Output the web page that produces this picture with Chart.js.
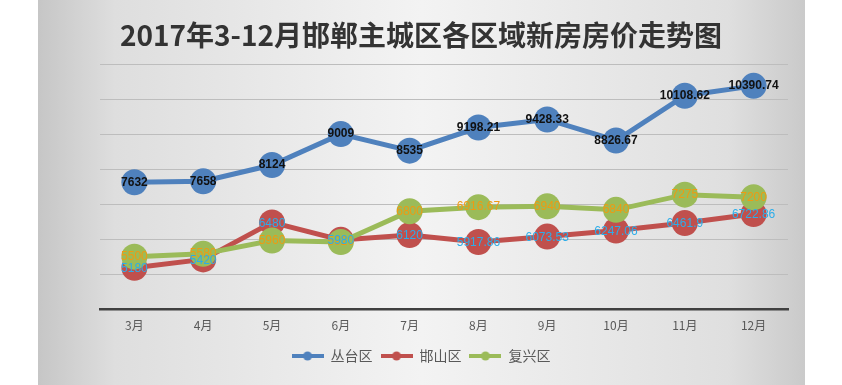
<!DOCTYPE html>
<html>
<head>
<meta charset="utf-8">
<script src="https://cdn.jsdelivr.net/npm/chart.js@4"></script>
<style>
  html, body { margin: 0; padding: 0; background: #fff; }
  #wrap { width: 842px; height: 385px; }
</style>
</head>
<body>
<div id="wrap"><canvas id="priceChart" width="842" height="385"></canvas></div>
<script>
const months = ["3月", "4月", "5月", "6月", "7月", "8月", "9月", "10月", "11月", "12月"];
const congtai = [7632, 7658, 8124, 9009, 8535, 9198.21, 9428.33, 8826.67, 10108.62, 10390.74];
const hanshan = [5180, 5420, 6480, 5980, 6120, 5917.86, 6073.53, 6247.06, 6461.9, 6722.86];
const fuxing = [5500, 5580, 5960, 5920, 6800, 6916.67, 6940, 6840, 7275, 7200];
const yTicks = [4000, 5000, 6000, 7000, 8000, 9000, 10000, 11000];

const blue = "#4f81bd";
const red = "#c0504d";
const green = "#9bbb59";

// little line-with-dot image for the legend
function legendMark(color) {
  const c = document.createElement("canvas");
  c.width = 32;
  c.height = 10;
  const g = c.getContext("2d");
  g.strokeStyle = color;
  g.lineWidth = 4;
  g.beginPath();
  g.moveTo(0, 5);
  g.lineTo(32, 5);
  g.stroke();
  g.fillStyle = color;
  g.beginPath();
  g.arc(16, 5, 4.5, 0, Math.PI * 2);
  g.fill();
  return c;
}

const bgPlugin = {
  id: "bg",
  beforeDraw(chart) {
    const ctx = chart.ctx;
    const grad = ctx.createLinearGradient(38, 0, 805, 0);
    grad.addColorStop(0, "#c6c6c6");
    grad.addColorStop(0.1, "#dedede");
    grad.addColorStop(0.5, "#f3f3f3");
    grad.addColorStop(0.9, "#dfdfdf");
    grad.addColorStop(1, "#cacaca");
    ctx.save();
    ctx.fillStyle = grad;
    ctx.fillRect(38, 0, 767, 385);
    ctx.restore();
  },
};

const labelStyles = [
  { color: "#111111", font: "bold 12px 'Liberation Sans'", dy: 0 },
  { color: "#2badea", font: "12px 'Liberation Sans'", dy: 1 },
  { color: "#ef9a12", font: "12px 'Liberation Sans'", dy: 0 },
];

const valueLabels = {
  id: "valueLabels",
  afterDatasetsDraw(chart) {
    const ctx = chart.ctx;
    ctx.save();
    ctx.textAlign = "center";
    ctx.textBaseline = "middle";
    [0, 2, 1].forEach((i) => {
      const meta = chart.getDatasetMeta(i);
      const st = labelStyles[i];
      ctx.fillStyle = st.color;
      ctx.font = st.font;
      meta.data.forEach((pt, j) => {
        ctx.fillText(String(chart.data.datasets[i].data[j]), pt.x, pt.y + st.dy);
      });
    });
    ctx.restore();
  },
};

new Chart(document.getElementById("priceChart"), {
  type: "line",
  data: {
    labels: months,
    datasets: [
      {
        label: "丛台区",
        data: congtai,
        borderColor: blue,
        backgroundColor: blue,
        borderWidth: 5,
        pointRadius: 13,
        pointBackgroundColor: blue,
        pointBorderWidth: 0,
        order: 3,
      },
      {
        label: "邯山区",
        data: hanshan,
        borderColor: red,
        backgroundColor: red,
        borderWidth: 5,
        pointRadius: 13,
        pointBackgroundColor: red,
        pointBorderWidth: 0,
        order: 2,
      },
      {
        label: "复兴区",
        data: fuxing,
        borderColor: green,
        backgroundColor: green,
        borderWidth: 5,
        pointRadius: 13,
        pointBackgroundColor: green,
        pointBorderWidth: 0,
        order: 1,
      },
    ],
  },
  options: {
    responsive: false,
    animation: false,
    devicePixelRatio: 1,
    layout: { padding: { left: 54, right: 54, top: 0, bottom: 12 } },
    plugins: {
      tooltip: { enabled: false },
      title: {
        display: true,
        text: "2017年3-12月邯郸主城区各区域新房房价走势图",
        color: "#333333",
        font: { family: "'Noto Sans CJK SC'", size: 28, weight: "bold" },
        padding: { top: 19, bottom: 12 },
      },
      legend: {
        position: "bottom",
        labels: {
          usePointStyle: true,
          pointStyleWidth: 32,
          padding: 8,
          color: "#595959",
          font: { family: "'Noto Sans CJK SC'", size: 14 },
          sort: (a, b) => a.datasetIndex - b.datasetIndex,
          generateLabels(chart) {
            return chart.data.datasets.map((ds, i) => ({
              text: ds.label,
              fillStyle: ds.borderColor,
              strokeStyle: ds.borderColor,
              fontColor: "#595959",
              lineWidth: 0,
              pointStyle: legendMark(ds.borderColor),
              hidden: false,
              datasetIndex: i,
            }));
          },
        },
      },
    },
    scales: {
      x: {
        offset: true,
        grid: { display: false, drawTicks: false, offset: true },
        border: { display: true, color: "#404040", width: 2.5 },
        ticks: {
          color: "#595959",
          padding: 9,
          font: { family: "'Noto Sans CJK SC'", size: 12 },
        },
        afterFit(scale) { scale.height = 32; },
      },
      y: {
        min: yTicks[0],
        max: yTicks[yTicks.length - 1],
        afterBuildTicks(scale) { scale.ticks = yTicks.map((v) => ({ value: v })); },
        grid: { color: "#bdbdbd", lineWidth: 1, drawTicks: false },
        border: { display: false },
        ticks: { display: false },
        afterFit(scale) { scale.width = 46; },
      },
    },
  },
  plugins: [bgPlugin, valueLabels],
});
</script>
</body>
</html>
